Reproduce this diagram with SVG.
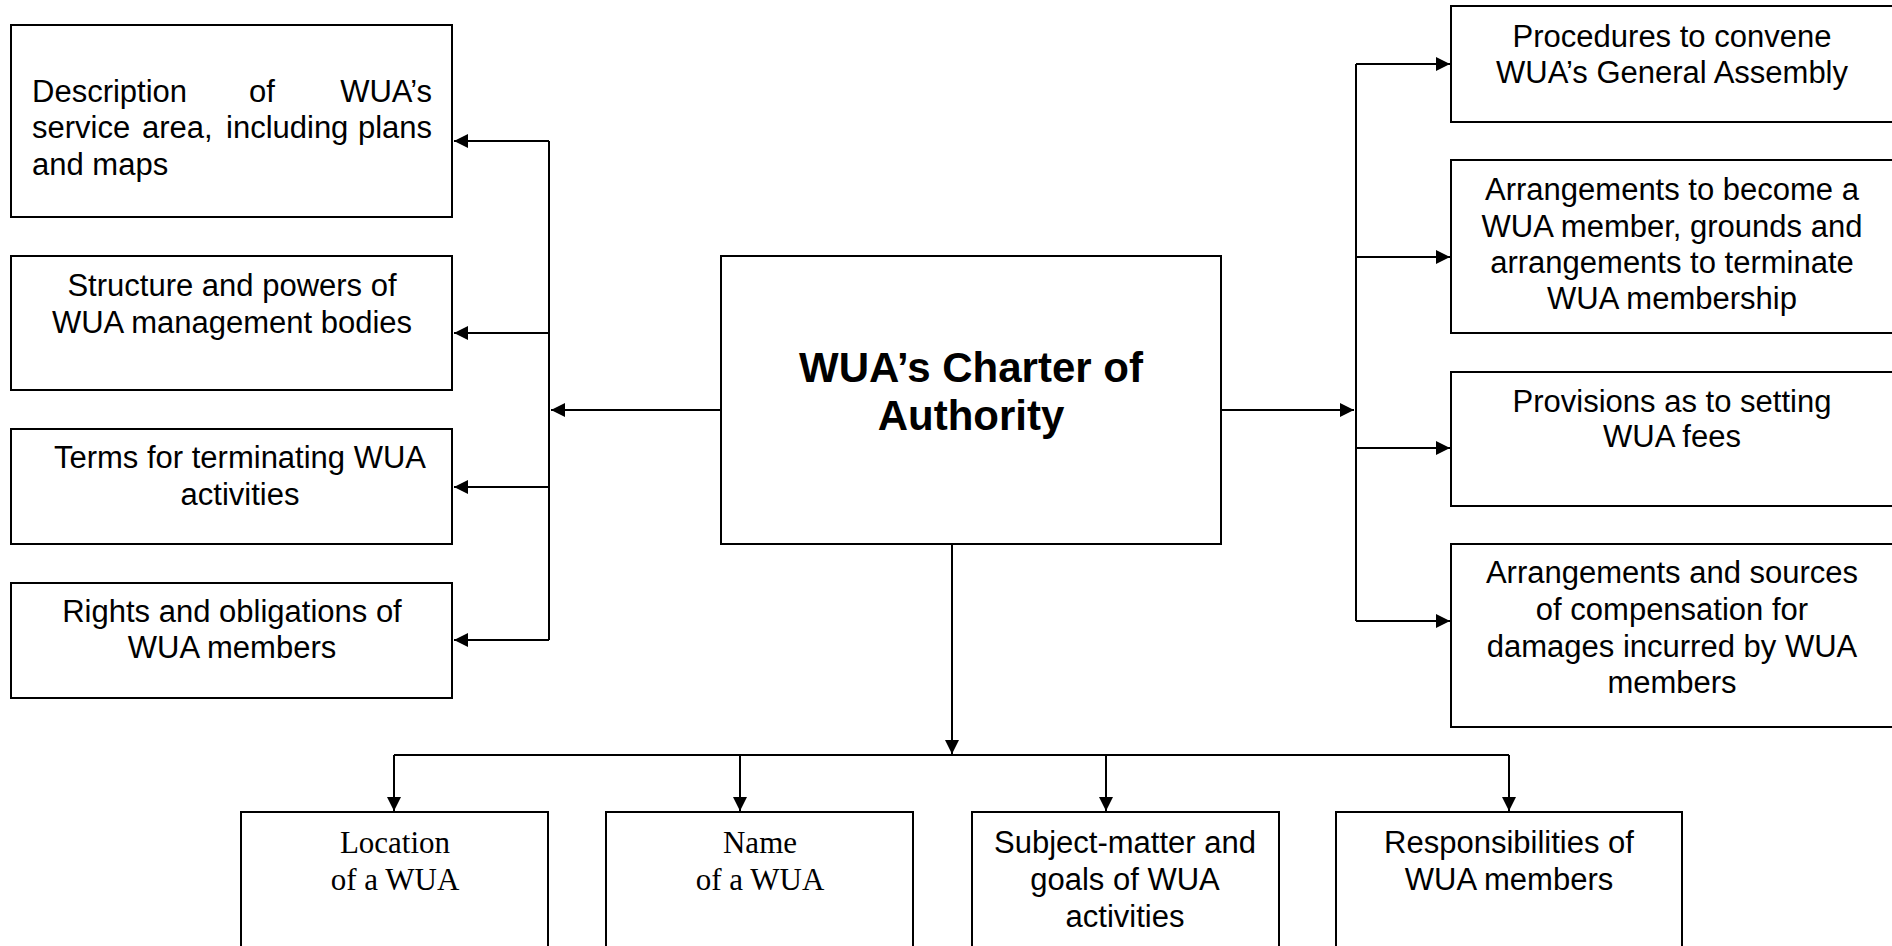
<svg xmlns="http://www.w3.org/2000/svg" width="1892" height="946" viewBox="0 0 1892 946">
<style>
.box{fill:#fff;stroke:#000;stroke-width:2}
.t{font-family:"Liberation Sans",Arial,sans-serif;font-size:31px;fill:#000;text-anchor:middle}
.tl{font-family:"Liberation Sans",Arial,sans-serif;font-size:31px;fill:#000}
.tb{font-family:"Liberation Sans",Arial,sans-serif;font-size:42px;font-weight:bold;fill:#000;text-anchor:middle}
.ts{font-family:"Liberation Serif","Times New Roman",serif;font-size:31px;fill:#000;text-anchor:middle}
.c{fill:none;stroke:#000;stroke-width:2}
</style>
<defs>
<marker id="ah" markerUnits="userSpaceOnUse" markerWidth="15" markerHeight="14" refX="14" refY="7" orient="auto">
<path d="M0,0 L14,7 L0,14 z" fill="#000"/>
</marker>
</defs>
<rect width="1892" height="946" fill="#fff"/>

<g id="connectors">
<path class="c" d="M721,410 H551" marker-end="url(#ah)"/>
<path class="c" d="M549,141 V640"/>
<path class="c" d="M549,141 H454" marker-end="url(#ah)"/>
<path class="c" d="M549,333 H454" marker-end="url(#ah)"/>
<path class="c" d="M549,487 H454" marker-end="url(#ah)"/>
<path class="c" d="M549,640 H454" marker-end="url(#ah)"/>
<path class="c" d="M1221,410 H1354" marker-end="url(#ah)"/>
<path class="c" d="M1356,64 V621"/>
<path class="c" d="M1356,64 H1450" marker-end="url(#ah)"/>
<path class="c" d="M1356,257 H1450" marker-end="url(#ah)"/>
<path class="c" d="M1356,448 H1450" marker-end="url(#ah)"/>
<path class="c" d="M1356,621 H1450" marker-end="url(#ah)"/>
<path class="c" d="M952,544 V754" marker-end="url(#ah)"/>
<path class="c" d="M394,755 H1509"/>
<path class="c" d="M394,755 V811" marker-end="url(#ah)"/>
<path class="c" d="M740,755 V811" marker-end="url(#ah)"/>
<path class="c" d="M1106,755 V811" marker-end="url(#ah)"/>
<path class="c" d="M1509,755 V811" marker-end="url(#ah)"/>
</g>

<g id="center">
<rect class="box" x="721" y="256" width="500" height="288"/>
<text class="tb" x="971" y="382">WUA’s Charter of</text>
<text class="tb" x="971" y="430">Authority</text>
</g>

<g id="left1">
<rect class="box" x="11" y="25" width="441" height="192"/>
<text class="tl" y="102"><tspan x="32">Description</tspan><tspan x="249">of</tspan></text>
<text class="tl" x="432" y="102" text-anchor="end">WUA’s</text>
<text class="tl" y="138"><tspan x="32">service</tspan><tspan x="142">area,</tspan><tspan x="226">including</tspan></text>
<text class="tl" x="432" y="138" text-anchor="end">plans</text>
<text class="tl" x="32" y="175">and maps</text>
</g>

<g id="left2">
<rect class="box" x="11" y="256" width="441" height="134"/>
<text class="t" x="232" y="296">Structure and powers of</text>
<text class="t" x="232" y="333">WUA management bodies</text>
</g>

<g id="left3">
<rect class="box" x="11" y="429" width="441" height="115"/>
<text class="t" x="240" y="468">Terms for terminating WUA</text>
<text class="t" x="240" y="505">activities</text>
</g>

<g id="left4">
<rect class="box" x="11" y="583" width="441" height="115"/>
<text class="t" x="232" y="622">Rights and obligations of</text>
<text class="t" x="232" y="658">WUA members</text>
</g>

<g id="right1">
<rect class="box" x="1451" y="6" width="460" height="116"/>
<text class="t" x="1672" y="47">Procedures to convene</text>
<text class="t" x="1672" y="83">WUA’s General Assembly</text>
</g>

<g id="right2">
<rect class="box" x="1451" y="160" width="460" height="173"/>
<text class="t" x="1672" y="200">Arrangements to become a</text>
<text class="t" x="1672" y="237">WUA member, grounds and</text>
<text class="t" x="1672" y="273">arrangements to terminate</text>
<text class="t" x="1672" y="309">WUA membership</text>
</g>

<g id="right3">
<rect class="box" x="1451" y="372" width="460" height="134"/>
<text class="t" x="1672" y="412">Provisions as to setting</text>
<text class="t" x="1672" y="447">WUA fees</text>
</g>

<g id="right4">
<rect class="box" x="1451" y="544" width="460" height="183"/>
<text class="t" x="1672" y="583">Arrangements and sources</text>
<text class="t" x="1672" y="620">of compensation for</text>
<text class="t" x="1672" y="657">damages incurred by WUA</text>
<text class="t" x="1672" y="693">members</text>
</g>

<g id="bottom1">
<rect class="box" x="241" y="812" width="307" height="160"/>
<text class="ts" x="395" y="853">Location</text>
<text class="ts" x="395" y="890">of a WUA</text>
</g>

<g id="bottom2">
<rect class="box" x="606" y="812" width="307" height="160"/>
<text class="ts" x="760" y="853">Name</text>
<text class="ts" x="760" y="890">of a WUA</text>
</g>

<g id="bottom3">
<rect class="box" x="972" y="812" width="307" height="160"/>
<text class="t" x="1125" y="853">Subject-matter and</text>
<text class="t" x="1125" y="890">goals of WUA</text>
<text class="t" x="1125" y="927">activities</text>
</g>

<g id="bottom4">
<rect class="box" x="1336" y="812" width="346" height="160"/>
<text class="t" x="1509" y="853">Responsibilities of</text>
<text class="t" x="1509" y="890">WUA members</text>
</g>
</svg>
